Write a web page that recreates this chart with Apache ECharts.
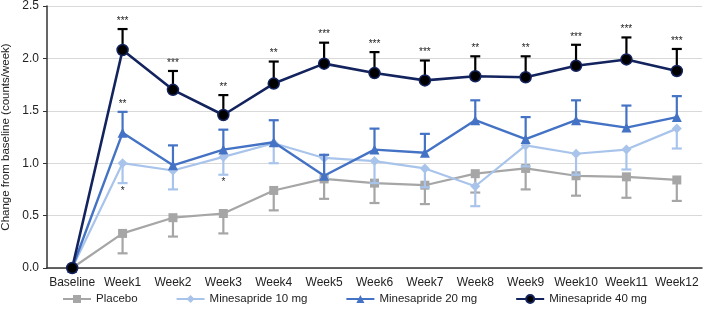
<!DOCTYPE html>
<html>
<head>
<meta charset="utf-8">
<script src="https://cdn.jsdelivr.net/npm/echarts@6/dist/echarts.min.js"></script>
<style>
  html, body { margin: 0; padding: 0; background: #fff; }
  #main { width: 709px; height: 312px; }
</style>
</head>
<body>
<div id="main"></div>
<script>
// categories
var weeks = ['Baseline', 'Week1', 'Week2', 'Week3', 'Week4', 'Week5', 'Week6', 'Week7', 'Week8', 'Week9', 'Week10', 'Week11', 'Week12'];

// means
var placebo = [0, 0.33, 0.48, 0.52, 0.74, 0.85, 0.81, 0.79, 0.90, 0.95, 0.88, 0.87, 0.84];
var mine10 = [0, 1.00, 0.93, 1.06, 1.19, 1.05, 1.02, 0.95, 0.78, 1.17, 1.09, 1.13, 1.33];
var mine20 = [0, 1.29, 0.98, 1.13, 1.20, 0.88, 1.13, 1.10, 1.41, 1.23, 1.41, 1.34, 1.44];
var mine40 = [0, 2.08, 1.70, 1.46, 1.76, 1.95, 1.86, 1.79, 1.83, 1.82, 1.93, 1.99, 1.88];

// error bar ends (placebo / 10 mg go down, 20 / 40 mg go up)
var placeboLow = [null, 0.14, 0.30, 0.33, 0.55, 0.66, 0.62, 0.61, 0.72, 0.75, 0.69, 0.67, 0.64];
var mine10Low = [null, 0.81, 0.75, 0.89, 1.00, 0.86, 0.81, 0.77, 0.59, 0.97, 0.89, 0.94, 1.14];
var mine20High = [null, 1.49, 1.17, 1.32, 1.41, 1.08, 1.33, 1.28, 1.60, 1.44, 1.60, 1.55, 1.64];
var mine40High = [null, 2.28, 1.88, 1.65, 1.97, 2.15, 2.06, 1.98, 2.02, 2.02, 2.13, 2.20, 2.09];

// significance marks
var stars10 = ['', '*', '', '*', '', '', '', '', '', '', '', '', ''];
var stars20 = ['', '**', '', '*', '', '', '', '', '', '', '', '', ''];
var stars40 = ['', '***', '***', '**', '**', '***', '***', '***', '**', '**', '***', '***', '***'];

var yTicks = [0, 0.5, 1.0, 1.5, 2.0, 2.5];

var cGray = '#a6a6a6';
var cLight = '#a9c4eb';
var cMid = '#4472c4';
var cDark = '#13235e';

function errData(mean, end, stars) {
  var out = [];
  for (var i = 0; i < mean.length; i++) {
    if (end[i] == null) continue;
    out.push([i, mean[i], end[i], stars ? stars[i] : '']);
  }
  return out;
}

function errSeries(name, mean, end, stars, color, z) {
  return {
    name: name + ' err',
    type: 'custom',
    z: z,
    silent: true,
    data: errData(mean, end, stars),
    renderItem: function (params, api) {
      var p0 = api.coord([api.value(0), api.value(1)]);
      var p1 = api.coord([api.value(0), api.value(2)]);
      var up = p1[1] < p0[1];
      var st = { stroke: color, lineWidth: 2.2 };
      var kids = [
        { type: 'line', shape: { x1: p0[0], y1: p0[1], x2: p1[0], y2: p1[1] }, style: st },
        { type: 'line', shape: { x1: p1[0] - 5, y1: p1[1], x2: p1[0] + 5, y2: p1[1] }, style: st }
      ];
      var s = api.value(3);
      if (s) {
        kids.push({
          type: 'text',
          style: {
            text: s,
            x: p1[0],
            y: up ? p1[1] - 3 : p1[1] + 3,
            align: 'center',
            verticalAlign: up ? 'bottom' : 'top',
            font: '10px "Liberation Sans", Arial, sans-serif',
            fill: '#222'
          }
        });
      }
      return { type: 'group', children: kids };
    }
  };
}

function lineSeries(name, data, color, symbol, size, width, z, fill) {
  return {
    name: name,
    type: 'line',
    z: z,
    data: data,
    symbol: symbol,
    symbolSize: size,
    showAllSymbol: true,
    lineStyle: { color: color, width: width },
    itemStyle: { color: fill || color, borderColor: color, borderWidth: fill ? 1.5 : 0, opacity: 1 },
    emphasis: { disabled: true }
  };
}

var chart = echarts.init(document.getElementById('main'));
chart.setOption({
  animation: false,
  textStyle: { fontFamily: '"Liberation Sans", Arial, sans-serif' },
  grid: { left: 47, right: 7, top: 6, bottom: 44, containLabel: false, outerBoundsMode: 'none' },
  legend: {
    top: 288,
    left: 'center',
    itemGap: 38,
    itemWidth: 28,
    itemHeight: 10,
    textStyle: { fontSize: 11.5, color: '#222' },
    data: ['Placebo', 'Minesapride 10 mg', 'Minesapride 20 mg', 'Minesapride 40 mg']
  },
  xAxis: {
    type: 'category',
    data: weeks,
    boundaryGap: true,
    axisLine: { lineStyle: { color: '#333', width: 1.5 } },
    axisTick: { show: false },
    axisLabel: { color: '#222', fontSize: 12, margin: 9, interval: 0 }
  },
  yAxis: {
    type: 'value',
    min: yTicks[0],
    max: yTicks[yTicks.length - 1],
    interval: 0.5,
    name: 'Change from baseline (counts/week)',
    nameLocation: 'middle',
    nameGap: 32,
    nameTextStyle: { fontSize: 11.5, color: '#222' },
    axisLine: { show: true, lineStyle: { color: '#333', width: 1.5 } },
    axisTick: { show: true, length: 4, lineStyle: { color: '#333' } },
    axisLabel: { color: '#222', fontSize: 12, formatter: function (v) { return v.toFixed(1); } },
    splitLine: { lineStyle: { color: '#d9d9d9', width: 1.2 } }
  },
  series: [
    errSeries('Placebo', placebo, placeboLow, null, cGray, 1),
    lineSeries('Placebo', placebo, cGray, 'rect', 9, 2.2, 2),
    errSeries('Minesapride 10 mg', mine10, mine10Low, stars10, cLight, 3),
    lineSeries('Minesapride 10 mg', mine10, cLight, 'diamond', 10, 2.2, 4),
    errSeries('Minesapride 20 mg', mine20, mine20High, stars20, cMid, 5),
    lineSeries('Minesapride 20 mg', mine20, cMid, 'triangle', 10, 2.4, 6),
    errSeries('Minesapride 40 mg', mine40, mine40High, stars40, '#000', 7),
    lineSeries('Minesapride 40 mg', mine40, cDark, 'circle', 11, 2.6, 8, '#000')
  ]
});
</script>
</body>
</html>
